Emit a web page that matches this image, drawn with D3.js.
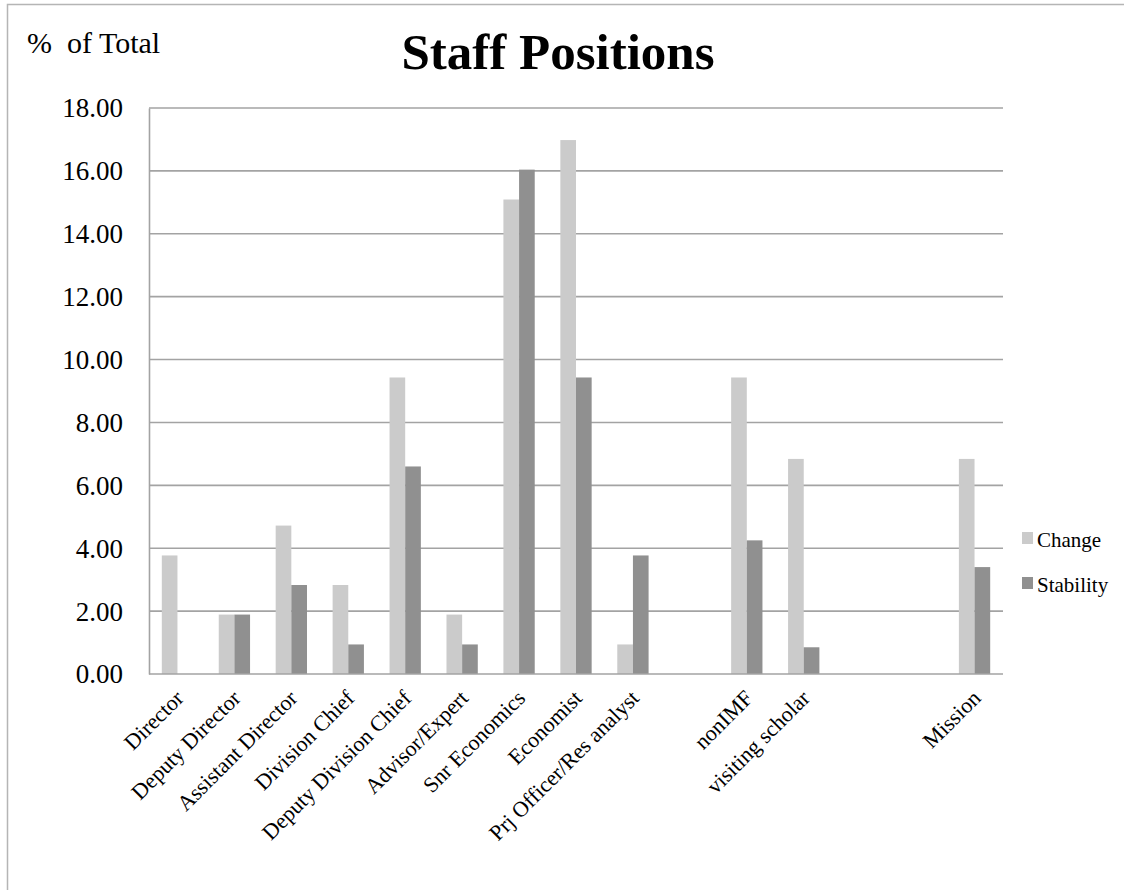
<!DOCTYPE html>
<html>
<head>
<meta charset="utf-8">
<script src="https://cdn.jsdelivr.net/npm/d3@7"></script>
<style>
  body { margin: 0; background: #fff; }
  text { font-family: "Liberation Serif", "Times New Roman", serif; fill: #000; }
</style>
</head>
<body>
<div id="chart"></div>
<script>
// positions along the axis (blank slots kept as empty labels)
var categories = ["Director", "Deputy Director", "Assistant Director", "Division Chief",
  "Deputy Division Chief", "Advisor/Expert", "Snr Economics", "Economist",
  "Prj Officer/Res analyst", "", "nonIMF", "visiting scholar", "", "", "Mission"];

var changeValues    = [3.77, 1.89, 4.72, 2.83, 9.43, 1.89, 15.09, 16.98, 0.94, 0, 9.43, 6.84, 0, 0, 6.84];
var stabilityValues = [0,    1.89, 2.83, 0.94, 6.60, 0.94, 16.04, 9.43,  3.77, 0, 4.25, 0.85, 0, 0, 3.40];

var seriesNames = ["Change", "Stability"];
var seriesColors = ["#cbcbcb", "#909090"];
var yTicks = [0, 2, 4, 6, 8, 10, 12, 14, 16, 18];

var svgWidth = 1124;
var svgHeight = 890;

var margin = { top: 108, left: 149, right: 121, bottom: 216 };
var width = svgWidth - margin.left - margin.right;
var height = svgHeight - margin.top - margin.bottom;

var svg = d3.select("#chart")
  .append("svg")
  .attr("width", svgWidth)
  .attr("height", svgHeight);

// chart area outline (only top and left show in the picture)
svg.append("path")
  .attr("d", "M7.5," + svgHeight + " V4.5 H" + svgWidth)
  .attr("fill", "none")
  .attr("stroke", "#b5b5b5")
  .attr("stroke-width", 1.5);

var chartGroup = svg.append("g")
  .attr("transform", `translate(${margin.left}, ${margin.top})`);

var xScale = d3.scaleBand()
  .domain(d3.range(categories.length))
  .range([0, width])
  .paddingInner(0.45)
  .paddingOuter(0.225);

var xSub = d3.scaleBand()
  .domain(seriesNames)
  .range([0, xScale.bandwidth()]);

var yScale = d3.scaleLinear()
  .domain([0, 18])
  .range([height, 0]);

// gridlines
chartGroup.append("g")
  .selectAll("line")
  .data(yTicks.slice(1))
  .enter()
  .append("line")
  .attr("x1", 0)
  .attr("x2", width)
  .attr("y1", d => yScale(d))
  .attr("y2", d => yScale(d))
  .attr("stroke", "#a3a3a3")
  .attr("stroke-width", 1.6);

// bars
var table = categories.map((c, i) => ({ i: i, values: [changeValues[i], stabilityValues[i]] }));

var groups = chartGroup.selectAll(".cat")
  .data(table)
  .enter()
  .append("g")
  .attr("transform", d => `translate(${xScale(d.i)},0)`);

groups.selectAll("rect")
  .data(d => d.values.map((v, k) => ({ name: seriesNames[k], value: v, k: k })))
  .enter()
  .append("rect")
  .attr("x", d => xSub(d.name))
  .attr("width", xSub.bandwidth())
  .attr("y", d => yScale(d.value))
  .attr("height", d => height - yScale(d.value))
  .attr("fill", d => seriesColors[d.k]);

// y axis
var leftAxis = d3.axisLeft(yScale)
  .tickValues(yTicks)
  .tickFormat(d3.format(".2f"))
  .tickSize(0)
  .tickPadding(26);

var yAxis = chartGroup.append("g").call(leftAxis);
yAxis.select(".domain").attr("stroke", "#a3a3a3").attr("stroke-width", 1.6);
yAxis.selectAll("text")
  .style("font-family", "Liberation Serif")
  .style("font-size", "27px")
  .attr("dy", "0.33em");

// x axis baseline
chartGroup.append("line")
  .attr("x1", 0)
  .attr("x2", width)
  .attr("y1", height)
  .attr("y2", height)
  .attr("stroke", "#a3a3a3")
  .attr("stroke-width", 1.6);

// x labels, rotated
chartGroup.append("g")
  .selectAll("text")
  .data(categories)
  .enter()
  .append("text")
  .attr("transform", (d, i) => `translate(${xScale(i) + xScale.bandwidth() / 2 + 2}, ${height + 20}) rotate(-45)`)
  .attr("text-anchor", "end")
  .attr("dy", "0.35em")
  .style("font-size", "22px")
  .text(d => d);

// title and y axis caption
svg.append("text")
  .attr("x", 558)
  .attr("y", 69)
  .attr("text-anchor", "middle")
  .style("font-size", "51px")
  .style("font-weight", "bold")
  .text("Staff Positions");

svg.append("text")
  .attr("x", 27)
  .attr("y", 53)
  .style("font-size", "30px")
  .style("white-space", "pre")
  .text("%  of Total");

// legend
var legend = svg.append("g")
  .selectAll("g")
  .data(seriesNames)
  .enter()
  .append("g")
  .attr("transform", (d, i) => `translate(1022, ${532 + i * 45})`);

legend.append("rect")
  .attr("width", 11)
  .attr("height", 12)
  .attr("fill", (d, i) => seriesColors[i]);

legend.append("text")
  .attr("x", 15)
  .attr("y", 15)
  .style("font-size", "21px")
  .text(d => d);
</script>
</body>
</html>
